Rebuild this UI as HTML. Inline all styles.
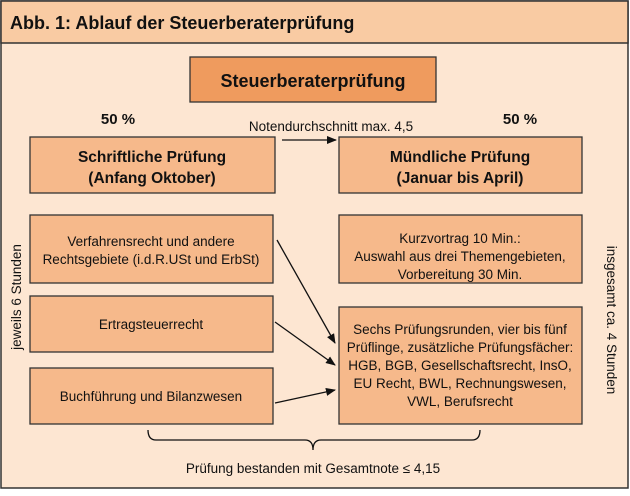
<!DOCTYPE html><html><head><meta charset="utf-8"><style>
body{margin:0;width:630px;height:491px;overflow:hidden;background:#fff;font-family:"Liberation Sans",sans-serif;}
svg text{font-family:"Liberation Sans",sans-serif;fill:#111}
</style></head><body>
<svg width="630" height="491" xmlns="http://www.w3.org/2000/svg">
<defs><marker id="a" markerWidth="10" markerHeight="8" refX="9" refY="4" orient="auto" markerUnits="userSpaceOnUse"><path d="M0,0 L10,4 L0,8z" fill="#111"/></marker></defs>
<rect x="1" y="1" width="627" height="487" fill="#fde6d2" stroke="#333" stroke-width="1.5"/>
<rect x="1" y="1" width="627" height="42" fill="#f9cba3" stroke="#333" stroke-width="1.5"/>
<text x="10" y="29" font-size="18" font-weight="bold">Abb. 1: Ablauf der Steuerberaterprüfung</text>
<rect x="190" y="57" width="246" height="45" fill="#ef9b5e" stroke="#333" stroke-width="1.3"/>
<text x="313" y="87" font-size="18" font-weight="bold" text-anchor="middle">Steuerberaterprüfung</text>
<text x="118" y="124" font-size="15" font-weight="bold" text-anchor="middle">50 %</text>
<text x="520" y="124" font-size="15" font-weight="bold" text-anchor="middle">50 %</text>
<text x="331" y="131" font-size="13.5" text-anchor="middle">Notendurchschnitt max. 4,5</text>
<line x1="282" y1="140" x2="336" y2="140" stroke="#111" stroke-width="1.3" marker-end="url(#a)"/>
<g fill="#f6b98b" stroke="#333" stroke-width="1.3">
<rect x="30" y="137" width="245" height="56"/><rect x="339" y="137" width="243" height="56"/>
<rect x="30" y="215" width="243" height="68"/><rect x="30" y="296" width="243" height="56"/><rect x="30" y="368" width="243" height="56"/>
<rect x="339" y="215" width="243" height="68"/><rect x="339" y="307" width="243" height="117"/>
</g>
<g font-size="15.5" font-weight="bold" text-anchor="middle">
<text x="152" y="162">Schriftliche Prüfung</text><text x="152" y="183">(Anfang Oktober)</text>
<text x="460" y="162">Mündliche Prüfung</text><text x="460" y="183">(Januar bis April)</text>
</g>
<g font-size="13.5" text-anchor="middle">
<text x="151" y="246">Verfahrensrecht und andere</text><text x="151" y="264">Rechtsgebiete (i.d.R.USt und ErbSt)</text>
<text x="151" y="329">Ertragsteuerrecht</text>
<text x="151" y="401">Buchführung und Bilanzwesen</text>
<text x="460" y="243">Kurzvortrag 10 Min.:</text><text x="460" y="261">Auswahl aus drei Themengebieten,</text><text x="460" y="279">Vorbereitung 30 Min.</text>
<text x="460" y="334">Sechs Prüfungsrunden, vier bis fünf</text><text x="460" y="352">Prüflinge, zusätzliche Prüfungsfächer:</text><text x="460" y="370">HGB, BGB, Gesellschaftsrecht, InsO,</text><text x="460" y="388">EU Recht, BWL, Rechnungswesen,</text><text x="460" y="406">VWL, Berufsrecht</text>
<text transform="translate(21,297) rotate(-90)">jeweils 6 Stunden</text>
<text transform="translate(607,320) rotate(90)">insgesamt ca. 4 Stunden</text>
<text x="313" y="473">Prüfung bestanden mit Gesamtnote ≤ 4,15</text>
</g>
<g stroke="#111" stroke-width="1.3" fill="none">
<line x1="277" y1="240" x2="335" y2="343" marker-end="url(#a)"/>
<line x1="275" y1="322" x2="335" y2="365" marker-end="url(#a)"/>
<line x1="275" y1="403" x2="335" y2="390" marker-end="url(#a)"/>
<path d="M148,430 Q148,440 156,440 L305,440 Q313,440 313,450 Q313,440 321,440 L472,440 Q480,440 480,430"/>
</g>
</svg></body></html>
